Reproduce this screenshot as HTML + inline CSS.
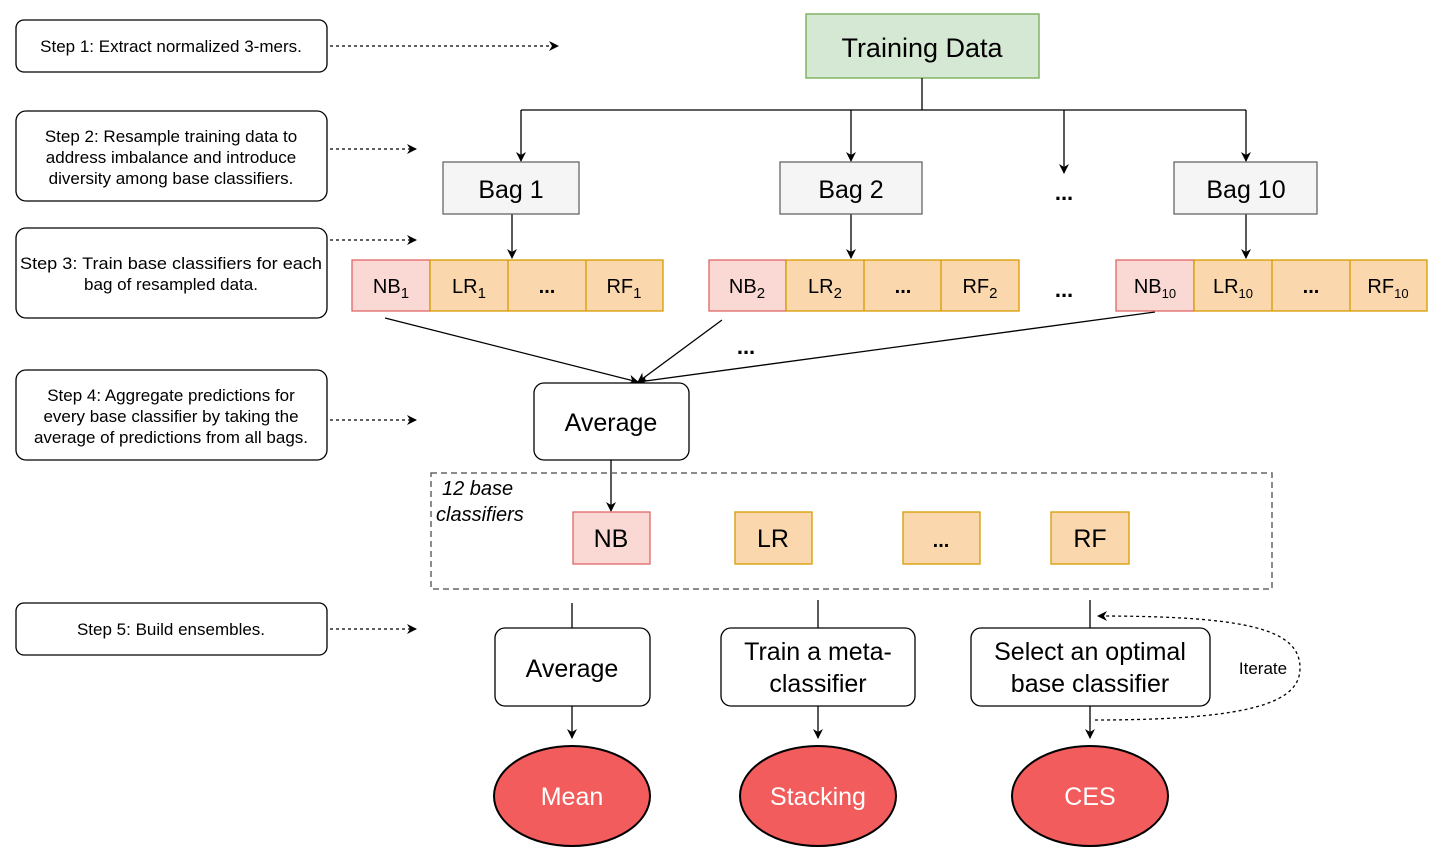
<!DOCTYPE html><html><head><style>body{margin:0;background:#fff}svg{display:block}text{font-family:"Liberation Sans",Arial,sans-serif}</style></head><body>
<svg width="1440" height="858" viewBox="0 0 1440 858">
<defs><marker id="a" markerWidth="10" markerHeight="10" refX="9" refY="5" orient="auto" markerUnits="userSpaceOnUse"><path d="M0,0 L10,5 L0,10 L3,5z" fill="#000"/></marker></defs>
<g fill="#fff" stroke="#000" stroke-width="1.3">
<rect x="16" y="20" width="311" height="52" rx="8"/><rect x="16" y="111" width="311" height="90" rx="10"/><rect x="16" y="228" width="311" height="90" rx="10"/><rect x="16" y="370" width="311" height="90" rx="10"/><rect x="16" y="603" width="311" height="52" rx="8"/>
</g>
<g font-size="17" text-anchor="middle" fill="#000">
<text x="171" y="52">Step 1: Extract normalized 3-mers.</text>
<text x="171" y="142">Step 2: Resample training data to</text><text x="171" y="163">address imbalance and introduce</text><text x="171" y="184">diversity among base classifiers.</text>
<text x="171" y="269" textLength="302" lengthAdjust="spacingAndGlyphs">Step 3: Train base classifiers for each</text><text x="171" y="290">bag of resampled data.</text>
<text x="171" y="401">Step 4: Aggregate predictions for</text><text x="171" y="422">every base classifier by taking the</text><text x="171" y="443">average of predictions from all bags.</text>
<text x="171" y="635">Step 5: Build ensembles.</text>
</g>
<g stroke="#000" stroke-width="1.3" stroke-dasharray="3,3" marker-end="url(#a)">
<line x1="330" y1="46" x2="558" y2="46"/><line x1="330" y1="149" x2="416" y2="149"/><line x1="330" y1="240" x2="416" y2="240"/><line x1="330" y1="420" x2="416" y2="420"/><line x1="330" y1="629" x2="416" y2="629"/>
</g>
<rect x="806" y="14" width="233" height="64" fill="#d5e8d4" stroke="#82b366" stroke-width="1.5"/>
<text x="922" y="57" font-size="27" text-anchor="middle">Training Data</text>
<g stroke="#000" stroke-width="1.3" fill="none">
<polyline points="922,78 922,110"/><line x1="521" y1="110" x2="1246" y2="110"/>
<g marker-end="url(#a)"><line x1="521" y1="110" x2="521" y2="161"/><line x1="851" y1="110" x2="851" y2="161"/><line x1="1064" y1="110" x2="1064" y2="173"/><line x1="1246" y1="110" x2="1246" y2="161"/>
<line x1="512" y1="214" x2="512" y2="258"/><line x1="851" y1="214" x2="851" y2="258"/><line x1="1246" y1="214" x2="1246" y2="258"/>
<line x1="385" y1="318" x2="638" y2="382"/><line x1="722" y1="320" x2="638" y2="382"/><line x1="1155" y1="312" x2="638" y2="382"/>
<line x1="611" y1="460" x2="611" y2="511"/>
<line x1="572" y1="706" x2="572" y2="738"/><line x1="818" y1="706" x2="818" y2="738"/><line x1="1090" y1="706" x2="1090" y2="738"/></g>
<line x1="572" y1="603" x2="572" y2="628"/><line x1="818" y1="600" x2="818" y2="628"/><line x1="1090" y1="600" x2="1090" y2="628"/>
<path d="M1095,720 C1260,720 1300,700 1300,668 C1300,630 1250,616 1098,616" stroke-dasharray="3,3" marker-end="url(#a)"/>
</g>
<g fill="#f5f5f5" stroke="#666" stroke-width="1.3"><rect x="443" y="162" width="136" height="52"/><rect x="780" y="162" width="142" height="52"/><rect x="1174" y="162" width="143" height="52"/></g>
<g font-size="25" text-anchor="middle"><text x="511" y="198">Bag 1</text><text x="851" y="198">Bag 2</text><text x="1246" y="198">Bag 10</text></g>
<g font-size="22" font-weight="bold" text-anchor="middle"><text x="1064" y="200">...</text><text x="1064" y="297">...</text><text x="746" y="354">...</text></g>
<g stroke-width="1.3">
<rect x="352" y="260" width="78" height="51" fill="#fad9d5" stroke="#e06666"/><rect x="430" y="260" width="233" height="51" fill="#fad7ac" stroke="#d79b00"/><line x1="508" y1="260" x2="508" y2="311" stroke="#d79b00"/><line x1="586" y1="260" x2="586" y2="311" stroke="#d79b00"/>
<rect x="709" y="260" width="77" height="51" fill="#fad9d5" stroke="#e06666"/><rect x="786" y="260" width="233" height="51" fill="#fad7ac" stroke="#d79b00"/><line x1="864" y1="260" x2="864" y2="311" stroke="#d79b00"/><line x1="941" y1="260" x2="941" y2="311" stroke="#d79b00"/>
<rect x="1116" y="260" width="78" height="51" fill="#fad9d5" stroke="#e06666"/><rect x="1194" y="260" width="233" height="51" fill="#fad7ac" stroke="#d79b00"/><line x1="1272" y1="260" x2="1272" y2="311" stroke="#d79b00"/><line x1="1350" y1="260" x2="1350" y2="311" stroke="#d79b00"/>
</g>
<g font-size="20" text-anchor="middle">
<text x="391" y="293">NB<tspan font-size="15" dy="5">1</tspan></text><text x="469" y="293">LR<tspan font-size="15" dy="5">1</tspan></text><text x="547" y="293" font-weight="bold">...</text><text x="624" y="293">RF<tspan font-size="15" dy="5">1</tspan></text>
<text x="747" y="293">NB<tspan font-size="15" dy="5">2</tspan></text><text x="825" y="293">LR<tspan font-size="15" dy="5">2</tspan></text><text x="903" y="293" font-weight="bold">...</text><text x="980" y="293">RF<tspan font-size="15" dy="5">2</tspan></text>
<text x="1155" y="293">NB<tspan font-size="13" dy="5">10</tspan></text><text x="1233" y="293">LR<tspan font-size="13" dy="5">10</tspan></text><text x="1311" y="293" font-weight="bold">...</text><text x="1388" y="293">RF<tspan font-size="13" dy="5">10</tspan></text>
</g>
<rect x="534" y="383" width="155" height="77" rx="10" fill="#fff" stroke="#000" stroke-width="1.3"/>
<text x="611" y="431" font-size="25" text-anchor="middle">Average</text>
<rect x="431" y="473" width="841" height="116" fill="none" stroke="#666" stroke-width="1.5" stroke-dasharray="6,4"/>
<text x="442" y="495" font-size="20" font-style="italic">12 base</text><text x="436" y="521" font-size="20" font-style="italic">classifiers</text>
<rect x="573" y="512" width="77" height="52" fill="#fad9d5" stroke="#e06666" stroke-width="1.3"/>
<g fill="#fad7ac" stroke="#d79b00" stroke-width="1.3"><rect x="735" y="512" width="77" height="52"/><rect x="903" y="512" width="77" height="52"/><rect x="1051" y="512" width="78" height="52"/></g>
<g font-size="25" text-anchor="middle"><text x="611" y="547">NB</text><text x="773" y="547">LR</text><text x="941" y="547" font-weight="bold" font-size="20">...</text><text x="1090" y="547">RF</text></g>
<g fill="#fff" stroke="#000" stroke-width="1.3"><rect x="495" y="628" width="155" height="78" rx="10"/><rect x="721" y="628" width="194" height="78" rx="10"/><rect x="971" y="628" width="239" height="78" rx="10"/></g>
<g font-size="25" text-anchor="middle"><text x="572" y="677">Average</text><text x="818" y="660">Train a meta-</text><text x="818" y="692">classifier</text><text x="1090" y="660">Select an optimal</text><text x="1090" y="692">base classifier</text></g>
<text x="1263" y="674" font-size="17" text-anchor="middle">Iterate</text>
<g fill="#f25c5c" stroke="#000" stroke-width="2"><ellipse cx="572" cy="796" rx="78" ry="50"/><ellipse cx="818" cy="796" rx="78" ry="50"/><ellipse cx="1090" cy="796" rx="78" ry="50"/></g>
<g font-size="25" text-anchor="middle" fill="#fff"><text x="572" y="805">Mean</text><text x="818" y="805">Stacking</text><text x="1090" y="805">CES</text></g>
</svg></body></html>
